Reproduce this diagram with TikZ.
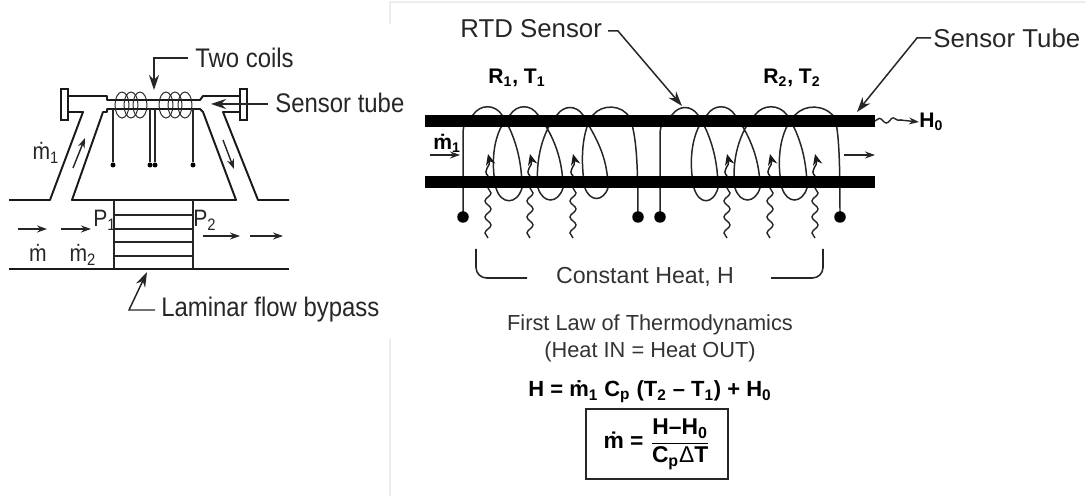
\documentclass[tikz,border=0pt]{standalone}
\usepackage{amsmath}
\usepackage{fontspec}
\setmainfont{Liberation Sans}
\newfontfamily\tallfont[FakeStretch=0.89]{Liberation Sans}
\usepackage{tikz}
\usetikzlibrary{arrows.meta, decorations.pathmorphing}

\begin{document}
\begin{tikzpicture}[
        x=0.02cm, y=-0.02cm,
        wall/.style={draw=black!90, line width=1.1pt, line join=round},
        pipe/.style={draw=black!85, line width=0.6pt},
        tube/.style={rectangle, fill=black, draw=none, inner sep=0pt, minimum width=9cm, minimum height=0.24cm},
        coilwire/.style={draw=black!85, line width=0.85pt},
        leader/.style={-{Stealth[length=3mm,width=2mm]}, line width=0.85pt, color=black!85},
        flowarrow/.style={-{Stealth[length=2mm,width=1.4mm]}, line width=0.8pt, color=black!85},
        heatwave/.style={decorate, decoration={snake, amplitude=0.6mm, segment length=3.2mm}, line width=0.8pt, color=black!85},
        heattip/.style={-{Stealth[length=2.2mm,width=1.9mm]}, line width=0.8pt, color=black!90},
        lead/.style={circle, fill=black, inner sep=0pt},
        biglabel/.style={inner sep=0pt, font=\tallfont\fontsize{15.3}{17}\selectfont, text=black!85},
        label/.style={inner sep=0pt, font=\fontsize{14.7}{17}\selectfont, text=black!85},
        note/.style={inner sep=0pt, align=center, font=\fontsize{12.4}{15.3}\selectfont, text=black!80},
        small/.style={inner sep=0pt, font=\tallfont\fontsize{13.5}{15}\selectfont, text=black!85},
        bold/.style={inner sep=0pt, font=\bfseries\fontsize{12}{14}\selectfont}
    ]
    \useasboundingbox (0,0) rectangle (1086,496);

    % Panel edge
    \draw[black!7, line width=1.1pt] (390,24) -- (390,2) -- (1086,2);
    \draw[black!7, line width=1.1pt] (390,339) -- (390,496);

    % Bypass body
    \draw[wall] (9,200) -- (50,200) -- (83,112) -- (68,112);
    \draw[wall] (68,96) -- (107,96) -- (107,100) -- (200,100) -- (203,96) -- (240,96);
    \draw[wall] (240,112) -- (223,112) -- (258,200) -- (289,200);
    \draw[wall] (103,112) -- (72,200) -- (236,200) -- (203,112) -- (200,109) -- (107,109) -- (107,112) -- cycle;
    \draw[wall] (9,269) -- (289,269);
    \node[rectangle, draw=black!90, fill=white, line width=0.8pt, minimum width=0.14cm, minimum height=0.62cm, inner sep=0pt] (flange_l) at (64.5,104.5) {};
    \node[rectangle, draw=black!90, fill=white, line width=0.8pt, minimum width=0.14cm, minimum height=0.62cm, inner sep=0pt] (flange_r) at (243.5,104.5) {};

    % Laminar stack
    \draw[pipe] (114,200) -- (114,269);
    \draw[pipe] (193,200) -- (193,269);
    \foreach \y in {215,229,242,256}
        \draw[pipe] (114,\y) -- (193,\y);

    % Small coils
    \foreach \x in {122,131,140,166,175,185}
        \draw[coilwire, line width=0.55pt] (\x,105) ellipse (7 and 13);

    % Coil leads
    \foreach \x/\name in {113/a,150/b,155/c,193/d} {
        \node[lead, minimum size=0.1cm] (dot_\name) at (\x,165) {};
        \draw[pipe] (\x,109) -- (dot_\name);
    }

    % Left labels
    \node[biglabel, anchor=west] (two_coils) at (195,58) {Two coils};
    \node[biglabel, anchor=west] (sensor_tube) at (275,103) {Sensor tube};
    \node[biglabel, anchor=west] (bypass) at (161,310) {Laminar flow bypass};
    \coordinate (coils_tip) at (154,90);
    \coordinate (tube_tip) at (211,104);
    \coordinate (bypass_tip) at (147,272);
    \draw[leader] (188,58) -- (154,58) -- (coils_tip);
    \draw[leader] (sensor_tube.west) ++(-7,1) -- (tube_tip);
    \draw[leader] (155,310) -- (129,310) -- (bypass_tip);

    % Left flow
    \draw[flowarrow] (18,229) -- (47,229);
    \draw[flowarrow] (61,229) -- (91,229);
    \draw[flowarrow] (203,236) -- (240,236);
    \draw[flowarrow] (250,236) -- (283,236);
    \draw[flowarrow] (73,168) -- (85,138);
    \draw[flowarrow] (223,140) -- (234,169);
    \node[small] (m_one) at (46,153) {\.m\textsubscript{1}};
    \node[small] (m_flow) at (38,253) {\.m};
    \node[small] (m_two) at (83,255) {\.m\textsubscript{2}};
    \node[small] (p_one) at (105,220) {P\textsubscript{1}};
    \node[small] (p_two) at (205,220) {P\textsubscript{2}};

    % Right coil, first half
    \draw[coilwire] (463,217) -- (463,135)
        .. controls (463,120) and (468,118) .. (473,115)
        .. controls (480,104) and (495,104) .. (502,115)
        .. controls (512,130) and (522,155) .. (522,188)
        .. controls (517,205) and (501,205) .. (496,188)
        .. controls (490,160) and (494,130) .. (510,115)
        .. controls (517,104) and (531,104) .. (538,115)
        .. controls (550,130) and (563,155) .. (563,188)
        .. controls (558,204) and (543,204) .. (538,188)
        .. controls (535,160) and (543,130) .. (557,115)
        .. controls (564,105) and (576,105) .. (583,115)
        .. controls (594,135) and (608,155) .. (608,188)
        .. controls (603,202) and (590,202) .. (585,188)
        .. controls (580,160) and (582,130) .. (593,115)
        .. controls (602,104) and (622,104) .. (630,118)
        .. controls (636,135) and (638,160) .. (638,217);

    % Right coil, second half
    \draw[coilwire] (660,217) -- (660,135)
        .. controls (660,122) and (666,118) .. (672,115)
        .. controls (679,105) and (691,105) .. (698,115)
        .. controls (708,130) and (718,155) .. (718,188)
        .. controls (713,205) and (699,205) .. (694,188)
        .. controls (688,160) and (692,130) .. (707,115)
        .. controls (714,104) and (728,104) .. (735,115)
        .. controls (746,130) and (760,155) .. (760,188)
        .. controls (755,204) and (740,204) .. (735,188)
        .. controls (731,160) and (740,130) .. (755,115)
        .. controls (763,104) and (779,104) .. (787,115)
        .. controls (797,130) and (807,155) .. (807,188)
        .. controls (802,204) and (787,204) .. (782,188)
        .. controls (776,160) and (780,130) .. (795,115)
        .. controls (805,104) and (825,104) .. (835,118)
        .. controls (839,135) and (840,160) .. (840,217);

    % Tubes
    \node[tube] (tube_top) at (650,121) {};
    \node[tube] (tube_bottom) at (650,182) {};

    % Coil terminals
    \foreach \x/\name in {463/a,638/b,660/c,840/d}
        \node[lead, minimum size=0.23cm] (term_\name) at (\x,217) {};

    % Heat waves
    \foreach \x in {488,530,573,727,770,815} {
        \draw[heatwave] (\x,238) -- (\x,188);
        \draw[heattip] (\x,176) .. controls (\x-6,170) and (\x+3,166) .. (\x,154);
    }

    % Right labels
    \node[label, anchor=west] (rtd) at (460,29) {RTD Sensor};
    \node[label, anchor=west] (sensor) at (933,38) {Sensor Tube};
    \node[bold, anchor=west] (r_one) at (488,78) {R\textsubscript{1}, T\textsubscript{1}};
    \node[bold, anchor=west] (r_two) at (763,78) {R\textsubscript{2}, T\textsubscript{2}};
    \node[bold, anchor=west] (m_in) at (433,143) {\.m\textsubscript{1}};
    \node[bold, anchor=west] (h_zero) at (919,122) {H\textsubscript{0}};
    \coordinate (rtd_tip) at (682,106);
    \coordinate (sensor_tip) at (857,112);
    \coordinate (h_start) at (875,121);
    \draw[leader] (608,31) -- (618,31) -- (rtd_tip);
    \draw[leader] (931,38) -- (917,38) -- (sensor_tip);
    \draw[heatwave, decoration={amplitude=0.5mm, segment length=2.8mm}] (h_start) -- (902,120);
    \draw[flowarrow] (900,120) -- (h_zero.west);
    \draw[flowarrow] (430,155) -- (460,155);
    \draw[flowarrow] (844,155) -- (875,155);

    % Bracket
    \node[note, font=\fontsize{13.2}{15}\selectfont] (heat) at (645,277) {Constant Heat, H};
    \draw[black!85, line width=0.9pt, rounded corners=6pt] (476,249) -- (476,278) -- (527,278);
    \draw[black!85, line width=0.9pt, rounded corners=6pt] (771,278) -- (823,278) -- (823,249);

    % Equations
    \node[note] (law) at (650,338) {First Law of Thermodynamics\\(Heat IN = Heat OUT)};
    \node[bold, font=\bfseries\fontsize{12.5}{14}\selectfont] (balance) at (650,392)
        {H = \.m\textsubscript{1} C\textsubscript{p} (T\textsubscript{2} -- T\textsubscript{1}) + H\textsubscript{0}};
    \node[rectangle, draw=black!85, line width=0.9pt, minimum width=2.84cm, minimum height=1.4cm, inner sep=0pt, font=\bfseries\fontsize{13}{15}\selectfont] (result) at (657,444)
        {\.m = $\dfrac{\text{\bfseries H--H\textsubscript{0}}}{\text{\bfseries C\textsubscript{p}\mdseries Δ\bfseries T}}$\hspace{0.25cm}};

\end{tikzpicture}
\end{document}
